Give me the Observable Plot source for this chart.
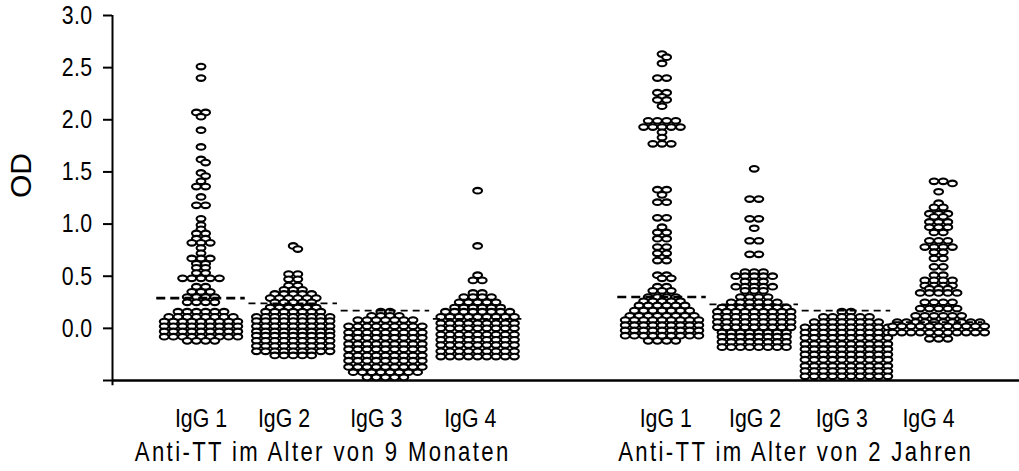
<!DOCTYPE html>
<html>
<head>
<meta charset="utf-8">
<script src="https://cdn.jsdelivr.net/npm/d3@7"></script>
<script src="https://cdn.jsdelivr.net/npm/@observablehq/plot@0.6"></script>
<style>
  body { margin: 0; background: #fff; }
</style>
</head>
<body>
<div id="chart"></div>
<script>
// Subclass columns along x: slots 1–4 at 9 months, 6–9 at 2 years
const subclasses = ["IgG 1", "IgG 2", "IgG 3", "IgG 4", "IgG 1", "IgG 2", "IgG 3", "IgG 4"];
const slots = [1, 2, 3, 4, 6, 7, 8, 9];
const labelSlots = [1.0, 1.9, 2.9, 3.92, 6.04, 7.01, 7.95, 8.89];
const ageGroups = ["Anti-TT im Alter von 9 Monaten", "Anti-TT im Alter von 2 Jahren"];
const ageSlots = [2.32, 7.45];
const yTicks = [-0.5, 0, 0.5, 1, 1.5, 2, 2.5, 3];

// Median OD per column (dashed lines)
const medians = [0.29, 0.24, 0.17, 0.09, 0.30, 0.23, 0.17, 0.06];

// OD readings per column, as [OD, number of sera at that OD]
const igg1_9m = [[2.51,1],[2.40,1],[2.07,2],[2.03,1],[1.90,1],[1.74,1],[1.62,1],[1.59,1],[1.49,1],[1.46,1],
  [1.41,1],[1.36,2],[1.26,1],[1.18,2],[1.05,1],[0.99,1],[0.95,1],[0.91,2],[0.86,2],[0.82,3],[0.77,1],[0.72,1],
  [0.67,3],[0.62,2],[0.58,2],[0.53,2],[0.48,5],[0.40,2],[0.35,3],[0.30,4],[0.25,4],
  [0.16,6],[0.11,8],[0.065,9],[0.02,9],[-0.03,9],[-0.08,9],[-0.12,4]];
const igg2_9m = [[0.79,1],[0.76,1],[0.52,2],[0.47,2],[0.41,2],[0.37,3],[0.33,5],[0.29,6],[0.25,5],[0.20,6],
  [0.16,7],[0.11,9],[0.07,9],[0.02,9],[-0.03,9],[-0.07,9],[-0.12,9],[-0.17,9],[-0.22,9],[-0.26,5]];
const igg3_9m = [[0.16,2],[0.12,4],[0.08,7],[0.02,9],[-0.04,9],[-0.09,9],[-0.15,9],[-0.20,9],[-0.26,9],
  [-0.31,9],[-0.37,9],[-0.42,8],[-0.47,5]];
const igg4_9m = [[1.32,1],[0.79,1],[0.51,1],[0.46,2],[0.34,2],[0.30,4],[0.25,5],[0.20,6],[0.16,8],[0.11,9],
  [0.05,9],[0.00,9],[-0.06,9],[-0.11,9],[-0.16,9],[-0.22,9],[-0.27,9]];
const igg1_2y = [[2.63,1],[2.60,1],[2.54,1],[2.40,2],[2.26,2],[2.22,1],[2.19,2],[2.13,1],[1.99,4],[1.93,5],
  [1.88,1],[1.83,1],[1.77,3],[1.33,2],[1.28,1],[1.21,2],[1.06,2],[0.97,1],[0.92,2],[0.86,2],[0.78,2],[0.72,2],
  [0.65,2],[0.51,2],[0.48,2],[0.40,2],[0.36,3],[0.30,4],[0.26,5],[0.22,6],[0.17,7],[0.12,8],[0.08,9],
  [0.03,9],[-0.02,9],[-0.07,9],[-0.12,4]];
const igg2_2y = [[1.53,1],[1.24,2],[1.05,2],[0.96,1],[0.84,2],[0.71,2],[0.54,3],[0.50,5],[0.45,3],[0.40,5],
  [0.36,3],[0.30,4],[0.25,6],[0.20,8],[0.16,9],[0.11,9],[0.06,9],[0.01,9],[-0.04,8],[-0.08,8],[-0.13,8],[-0.18,8]];
const igg3_2y = [[0.16,2],[0.11,6],[0.06,8],[0.01,10],[-0.04,10],[-0.09,10],[-0.15,10],[-0.20,10],[-0.25,10],
  [-0.30,10],[-0.36,10],[-0.41,10],[-0.46,10]];
const igg4_2y = [[1.41,2],[1.39,1],[1.31,1],[1.20,1],[1.16,2],[1.10,3],[1.07,2],[1.02,3],[0.97,3],[0.92,2],
  [0.84,3],[0.78,4],[0.73,2],[0.67,2],[0.59,2],[0.51,2],[0.46,4],[0.41,4],[0.38,3],[0.34,5],[0.25,4],
  [0.19,5],[0.12,6],[0.06,10],[0.02,11],[-0.04,11],[-0.10,3]];
const columns = [igg1_9m, igg2_9m, igg3_9m, igg4_9m, igg1_2y, igg2_2y, igg3_2y, igg4_2y];

// Frame geometry
const width = 1019, height = 471;
const marginLeft = 112, marginRight = 0, marginTop = 15, marginBottom = 91;
const xDomain = [0.04, 9.877], yDomain = [-0.5, 3.0];
const pxPerOD = (height - marginTop - marginBottom) / (yDomain[1] - yDomain[0]);
const pxPerSlot = (width - marginLeft - marginRight) / (xDomain[1] - xDomain[0]);

// Column-scatter layout: each OD row is laid out side by side around the
// column centre; a row is shifted sideways when it would overlap earlier ones.
const STEP = 9.2, ROW = 5.6;
function swarm(rows, slot, col) {
  const placed = [], out = [];
  for (const [od, n] of rows) {
    const y = od * pxPerOD;
    const base = d3.range(n).map(i => (i - (n - 1) / 2) * STEP);
    const clear = s => base.every(b => placed.every(p => {
      const dx = (p.x - (b + s)) / STEP, dy = (p.y - y) / ROW;
      return dx * dx + dy * dy >= 0.5;
    }));
    let s = 0;
    for (let k = 1; !clear(s) && k < 40; k++) s = (k % 2 ? 1 : -1) * Math.ceil(k / 2) * STEP / 2;
    for (const b of base) {
      placed.push({x: b + s, y});
      out.push({col, od, x: slot + (b + s) / pxPerSlot});
    }
  }
  return out;
}
const points = columns.flatMap((rows, i) => swarm(rows, slots[i], i));

// Open elliptical marker
const ellipse = {
  draw(ctx, size) {
    const rx = Math.sqrt(size / Math.PI), ry = rx * 0.64, k = 0.5523;
    ctx.moveTo(rx, 0);
    ctx.bezierCurveTo(rx, ry * k, rx * k, ry, 0, ry);
    ctx.bezierCurveTo(-rx * k, ry, -rx, ry * k, -rx, 0);
    ctx.bezierCurveTo(-rx, -ry * k, -rx * k, -ry, 0, -ry);
    ctx.bezierCurveTo(rx * k, -ry, rx, -ry * k, rx, 0);
    ctx.closePath();
  }
};

const medianRows = medians.map((m, i) => ({m, x1: slots[i] - 0.48, x2: slots[i] + 0.48, col: i}));
const labelRows = subclasses.map((s, i) => ({s, x: labelSlots[i]}));
const ageRows = ageGroups.map((s, i) => ({s, x: ageSlots[i]}));

const sans = "'Liberation Sans', Arial, sans-serif";

const chart = Plot.plot({
  width, height, marginLeft, marginRight, marginTop, marginBottom,
  style: {fontFamily: sans, fontSize: "26px", color: "#000", background: "#fff"},
  x: {domain: xDomain, axis: null},
  y: {domain: yDomain},
  marks: [
    Plot.axisY({ticks: yTicks, tickSize: 9, tickPadding: 11, strokeWidth: 2, label: null,
      tickFormat: d => d === -0.5 ? "" : d.toFixed(1), fontSize: 26}),
    Plot.ruleX([xDomain[0]], {y1: -0.55, y2: 3.0, strokeWidth: 2}),
    Plot.ruleY([-0.5], {strokeWidth: 2.5}),
    Plot.dot(points, {x: "x", y: "od", r: 4.4, symbol: ellipse, fill: "white", stroke: "black", strokeWidth: 2.1}),
    Plot.ruleY(medianRows.filter(d => d.col % 4 === 0), {y: "m", x1: "x1", x2: "x2", strokeWidth: 2.6, strokeDasharray: "9,5"}),
    Plot.ruleY(medianRows.filter(d => d.col % 4 !== 0), {y: "m", x1: "x1", x2: "x2", strokeWidth: 1.8, strokeDasharray: "7,5"}),
    Plot.text(labelRows, {x: "x", text: "s", frameAnchor: "bottom", dy: 46, fontSize: 26}),
    Plot.text(ageRows, {x: "x", text: "s", frameAnchor: "bottom", dy: 80, fontSize: 27}),
    Plot.text(["OD"], {frameAnchor: "left", dx: -91, rotate: -90, fontSize: 30})
  ]
});

// Condensed, spaced-out lettering for the captions and tick labels
const condense = sel => sel.attr("transform", function () {
  return (this.getAttribute("transform") || "") + " scale(0.82,1)";
});
const textGroups = d3.select(chart).selectAll('g[aria-label="text"]').nodes();
condense(d3.select(textGroups[0]).selectAll("text").style("letter-spacing", "0px"));
condense(d3.select(textGroups[1]).selectAll("text").style("letter-spacing", "2.9px"));
condense(d3.select(chart).selectAll('g[aria-label="y-axis tick label"] text').style("letter-spacing", "0.5px"));

document.getElementById("chart").appendChild(chart);
</script>
</body>
</html>
